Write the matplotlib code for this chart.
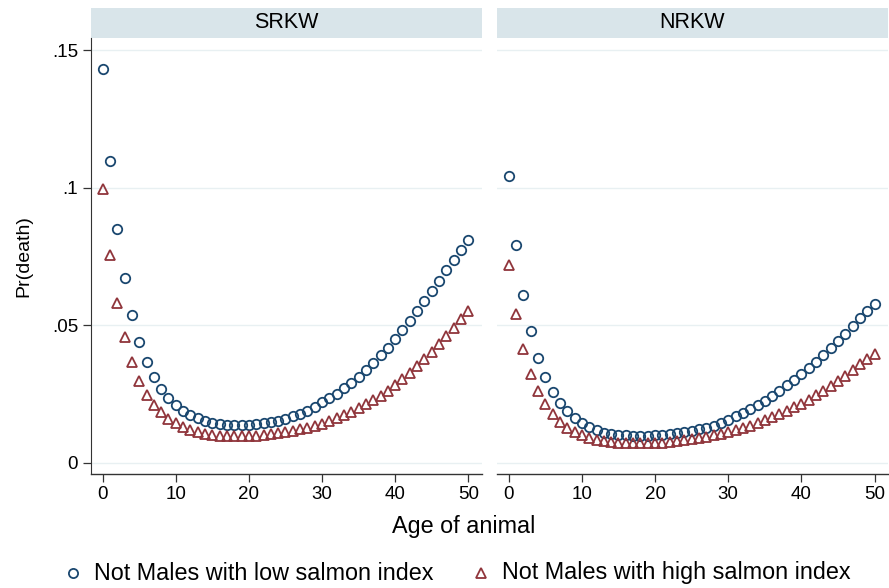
import numpy as np
import matplotlib
matplotlib.use("Agg")
import matplotlib.pyplot as plt
from matplotlib.patches import Rectangle

plt.rcParams['font.family'] = ['Liberation Sans', 'DejaVu Sans']

# Data (age 0..50)
age = np.arange(51)

srkw_low = [0.1431, 0.1096, 0.0850, 0.0671, 0.0538, 0.0440, 0.0366, 0.0310, 0.0268, 0.0235,
            0.0210, 0.0189, 0.0173, 0.0161, 0.0152, 0.0145, 0.0141, 0.0138, 0.0137, 0.0137,
            0.0138, 0.0140, 0.0143, 0.0147, 0.0153, 0.0160, 0.0168, 0.0178, 0.0189, 0.0203,
            0.0220, 0.0235, 0.0251, 0.0270, 0.0290, 0.0313, 0.0337, 0.0364, 0.0392, 0.0418,
            0.0450, 0.0481, 0.0515, 0.0551, 0.0587, 0.0625, 0.0661, 0.0700, 0.0736, 0.0773,
            0.0810]
srkw_high = [0.0995, 0.0755, 0.0582, 0.0457, 0.0366, 0.0298, 0.0247, 0.0211, 0.0183, 0.0160,
             0.0144, 0.0131, 0.0120, 0.0112, 0.0106, 0.0101, 0.0098, 0.0096, 0.0096, 0.0096,
             0.0097, 0.0098, 0.0101, 0.0103, 0.0107, 0.0110, 0.0115, 0.0121, 0.0127, 0.0135,
             0.0142, 0.0150, 0.0161, 0.0172, 0.0184, 0.0198, 0.0212, 0.0227, 0.0244, 0.0262,
             0.0281, 0.0303, 0.0326, 0.0350, 0.0378, 0.0403, 0.0432, 0.0462, 0.0491, 0.0521,
             0.0553]
nrkw_low = [0.1043, 0.0791, 0.0609, 0.0478, 0.0382, 0.0310, 0.0258, 0.0217, 0.0188, 0.0164,
            0.0144, 0.0129, 0.0118, 0.0109, 0.0104, 0.0101, 0.0099, 0.0098, 0.0098, 0.0098,
            0.0099, 0.0101, 0.0103, 0.0107, 0.0110, 0.0115, 0.0121, 0.0127, 0.0135, 0.0144,
            0.0154, 0.0168, 0.0181, 0.0195, 0.0210, 0.0226, 0.0244, 0.0262, 0.0281, 0.0300,
            0.0321, 0.0343, 0.0366, 0.0390, 0.0416, 0.0443, 0.0469, 0.0497, 0.0525, 0.0552,
            0.0578]
nrkw_high = [0.0718, 0.0540, 0.0414, 0.0324, 0.0261, 0.0212, 0.0176, 0.0148, 0.0127, 0.0112,
             0.0099, 0.0091, 0.0084, 0.0079, 0.0075, 0.0073, 0.0072, 0.0070, 0.0070, 0.0070,
             0.0072, 0.0073, 0.0075, 0.0078, 0.0081, 0.0085, 0.0089, 0.0093, 0.0099, 0.0106,
             0.0112, 0.0119, 0.0126, 0.0135, 0.0144, 0.0154, 0.0165, 0.0176, 0.0188, 0.0201,
             0.0215, 0.0229, 0.0245, 0.0261, 0.0279, 0.0297, 0.0317, 0.0337, 0.0358, 0.0376,
             0.0394]

panels = ["SRKW", "NRKW"]
low_series = [srkw_low, nrkw_low]
high_series = [srkw_high, nrkw_high]
labels = ["Not Males with low salmon index", "Not Males with high salmon index"]
xticks = [0, 10, 20, 30, 40, 50]
yticks = [0, 0.05, 0.1, 0.15]
ytick_labels = ["0", ".05", ".1", ".15"]

navy = "#1a476f"
maroon = "#90353b"
strip_col = "#d9e5ea"
grid_col = "#e8f0f2"
axis_col = "#333333"

fig = plt.figure(figsize=(8.89, 5.88), dpi=100)
positions = [[0.1020, 0.1939, 0.4398, 0.7420], [0.5587, 0.1939, 0.4402, 0.7420]]
strip_h = 29.7 / 436.3

for i, name in enumerate(panels):
    ax = fig.add_axes(positions[i])
    ax.plot(age, low_series[i], linestyle="none", marker="o", markersize=6.8,
            markerfacecolor="none", markeredgecolor=navy, markeredgewidth=1.3, clip_on=False)
    ax.plot(age, high_series[i], linestyle="none", marker="^", markersize=7.4,
            markerfacecolor="none", markeredgecolor=maroon, markeredgewidth=1.3, clip_on=False)
    ax.set_xlim(-1.64, 51.83)
    ax.set_ylim(-0.0041, 0.1545)
    ax.set_yticks(yticks)
    ax.set_xticks(xticks)
    ax.grid(axis="y", color=grid_col, linewidth=1.0)
    ax.set_axisbelow(True)
    for s in ["top", "right"]:
        ax.spines[s].set_visible(False)
    ax.spines["bottom"].set_color(axis_col)
    ax.spines["left"].set_color(axis_col)
    ax.spines["bottom"].set_linewidth(1.0)
    ax.tick_params(axis="both", length=6, width=0.9, color=axis_col, labelsize=13.5, pad=3)
    if i == 0:
        ax.set_yticklabels(ytick_labels)
        ax.set_ylabel("Pr(death)", fontsize=14, labelpad=14)
    else:
        ax.spines["left"].set_visible(False)
        ax.tick_params(axis="y", left=False, labelleft=False)
    ax.add_patch(Rectangle((0, 1.0), 1, strip_h, transform=ax.transAxes,
                           facecolor=strip_col, edgecolor="none", clip_on=False))
    ax.text(0.5, 1.0 + strip_h / 2, name, transform=ax.transAxes, ha="center", va="center",
            fontsize=15.5)

fig.text(464 / 889, 1 - 527 / 588, "Age of animal", ha="center", va="center", fontsize=16.8)

# legend
leg_y = 1 - 573 / 588
fig.lines.append(plt.Line2D([73 / 889], [leg_y], transform=fig.transFigure, linestyle="none",
                            marker="o", markersize=6.6, markerfacecolor="none",
                            markeredgecolor=navy, markeredgewidth=1.3))
fig.text(94 / 889, leg_y, labels[0], ha="left", va="center", fontsize=16.8)
fig.lines.append(plt.Line2D([481 / 889], [leg_y], transform=fig.transFigure, linestyle="none",
                            marker="^", markersize=7.2, markerfacecolor="none",
                            markeredgecolor=maroon, markeredgewidth=1.3))
fig.text(502 / 889, leg_y, labels[1], ha="left", va="center", fontsize=16.8)

fig.savefig("out.png", dpi=100)
